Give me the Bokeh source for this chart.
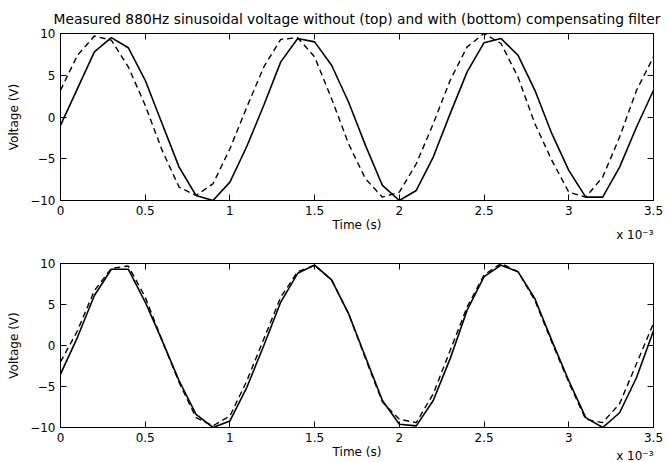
from bokeh.plotting import figure
from bokeh.layouts import column
from bokeh.models import LinearAxis, FixedTicker, Title, Range1d
from bokeh.embed import file_html
from bokeh.resources import INLINE

# ---- data (time in units of 1e-3 s, voltage in V) ----
TIME_MS = [0.0, 0.1, 0.2, 0.3, 0.4, 0.5, 0.6, 0.7, 0.8, 0.9,
           1.0, 1.1, 1.2, 1.3, 1.4, 1.5, 1.6, 1.7, 1.8, 1.9,
           2.0, 2.1, 2.2, 2.3, 2.4, 2.5, 2.6, 2.7, 2.8, 2.9,
           3.0, 3.1, 3.2, 3.3, 3.4, 3.5]

# top: without compensating filter
TOP_SOLID = [-1.0, 3.4, 7.8, 9.5, 8.3, 4.4, -0.8, -6.0, -9.4, -10.0,
             -7.8, -3.5, 1.4, 6.6, 9.4, 9.0, 6.2, 1.8, -3.4, -8.2,
             -10.0, -8.8, -4.8, 0.4, 5.4, 8.9, 9.4, 7.4, 3.2, -2.0,
             -6.4, -9.6, -9.6, -6.0, -1.2, 3.2]
TOP_DASHED = [3.2, 7.4, 9.7, 9.2, 6.0, 1.4, -4.0, -8.4, -9.4, -8.0,
              -3.8, 1.2, 6.0, 9.3, 9.5, 7.2, 2.2, -3.2, -7.4, -9.6,
              -9.0, -5.6, -0.8, 4.4, 8.4, 10.0, 8.8, 4.8, -0.8, -5.2,
              -9.0, -9.6, -7.2, -2.4, 3.2, 7.2]

# bottom: with compensating filter
BOTTOM_SOLID = [-3.5, 1.0, 6.1, 9.3, 9.3, 5.3, 0.6, -4.3, -8.4, -10.0,
                -9.2, -5.1, 0.0, 5.3, 8.8, 9.8, 8.0, 3.9, -1.4, -6.7,
                -9.6, -9.8, -6.7, -1.6, 4.3, 8.4, 9.8, 9.0, 5.7, 0.6,
                -4.3, -8.8, -10.0, -8.2, -3.9, 1.8]
BOTTOM_DASHED = [-2.0, 1.8, 6.7, 9.4, 9.7, 5.9, 0.6, -4.5, -8.8, -9.8,
                 -8.6, -4.3, 0.8, 5.9, 9.0, 9.8, 8.0, 3.9, -1.6, -6.9,
                 -9.0, -9.4, -5.9, -0.6, 4.7, 8.6, 10.0, 9.0, 5.5, 0.4,
                 -4.5, -9.0, -9.4, -7.1, -2.2, 2.7]

X_TICKS = [0, 0.5, 1, 1.5, 2, 2.5, 3, 3.5]
X_TICK_LABELS = ["0", "0.5", "1", "1.5", "2", "2.5", "3", "3.5"]
Y_TICKS = [-10, -5, 0, 5, 10]
Y_TICK_LABELS = ["\u221210", "\u22125", "0", "5", "10"]

TITLE = "Measured 880Hz sinusoidal voltage without (top) and with (bottom) compensating filter"
X_LABEL = "Time (s)"
Y_LABEL = "Voltage (V)"
X_MULT = "x 10\u207b\u00b3"

FONT = "DejaVu Sans"
FS = "12px"


def style_axis(ax, ticks, labels, show_labels=True):
    ax.ticker = FixedTicker(ticks=ticks)
    ax.major_label_overrides = {t: l for t, l in zip(ticks, labels)}
    ax.major_tick_in = 6
    ax.major_tick_out = 0
    ax.minor_tick_line_color = None
    ax.axis_line_color = "black"
    ax.major_tick_line_color = "black"
    ax.major_label_text_font = FONT
    if show_labels:
        ax.major_label_text_font_size = FS
        ax.major_label_text_color = "black"
    else:
        ax.major_label_text_font_size = "0px"
        ax.major_label_text_color = None
        ax.major_label_standoff = 0


def make_panel(height, top, bottom, solid, dashed, mult_valign, mult_standoff):
    p = figure(width=667, height=height, output_backend="svg", toolbar_location=None,
               x_range=Range1d(0, 3.5), y_range=Range1d(-10, 10),
               min_border_left=60, min_border_right=14,
               min_border_top=top, min_border_bottom=bottom,
               background_fill_color="white", border_fill_color="white",
               outline_line_color="black", outline_line_width=1)
    p.grid.visible = False

    xa = p.xaxis[0]
    style_axis(xa, X_TICKS, X_TICK_LABELS)
    xa.major_label_standoff = 5
    xa.axis_label = X_LABEL
    xa.axis_label_text_font = FONT
    xa.axis_label_text_font_size = FS
    xa.axis_label_text_font_style = "normal"
    xa.axis_label_text_color = "black"
    xa.axis_label_standoff = 0

    ya = p.yaxis[0]
    style_axis(ya, Y_TICKS, Y_TICK_LABELS)
    ya.major_label_standoff = 5
    ya.axis_label = Y_LABEL
    ya.axis_label_text_font = FONT
    ya.axis_label_text_font_size = FS
    ya.axis_label_text_font_style = "normal"
    ya.axis_label_text_color = "black"
    ya.axis_label_standoff = 6

    top_ax = LinearAxis()
    style_axis(top_ax, X_TICKS, X_TICK_LABELS, show_labels=False)
    p.add_layout(top_ax, "above")
    right_ax = LinearAxis()
    style_axis(right_ax, Y_TICKS, Y_TICK_LABELS, show_labels=False)
    p.add_layout(right_ax, "right")

    p.line(TIME_MS, solid, line_color="black", line_width=1.6)
    p.line(TIME_MS, dashed, line_color="black", line_width=1.4, line_dash="6 4")

    p.add_layout(Title(text=X_MULT, align="right", vertical_align=mult_valign,
                       standoff=mult_standoff, offset=0,
                       text_font=FONT, text_font_size=FS, text_font_style="normal",
                       text_color="black"), "below")
    return p


p1 = make_panel(246, 33, 46, TOP_SOLID, TOP_DASHED, "middle", -18)
p1.title.text = TITLE
p1.title.align = "center"
p1.title.vertical_align = "middle"
p1.title.standoff = 12
p1.title.text_font = FONT
p1.title.text_font_size = "13.8px"
p1.title.text_font_style = "normal"
p1.title.text_color = "black"

p2 = make_panel(216, 17, 35, BOTTOM_SOLID, BOTTOM_DASHED, "top", -26)

layout = column(p1, p2, spacing=0)

open("out.html", "w").write(file_html(layout, INLINE))
